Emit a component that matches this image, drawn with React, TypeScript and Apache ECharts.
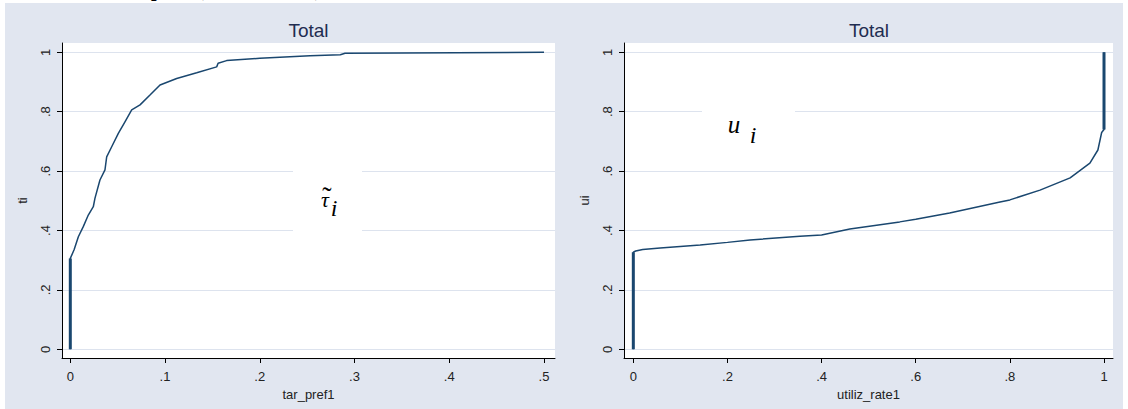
import React, { useEffect, useRef } from "react";
import * as echarts from "echarts";

// Panel 1: tar_pref1 vs ti
const tarPref1 = [0, 0, 0.004, 0.0085, 0.0137, 0.019, 0.0243, 0.026, 0.0313, 0.0366, 0.0384, 0.0437, 0.0507, 0.0577, 0.0648, 0.0736, 0.0841, 0.0947, 0.1123, 0.1334, 0.1545, 0.156, 0.165, 0.2, 0.253, 0.285, 0.29, 0.35, 0.5];
const ti = [0, 0.306, 0.335, 0.379, 0.413, 0.452, 0.48, 0.508, 0.57, 0.604, 0.648, 0.682, 0.727, 0.766, 0.806, 0.823, 0.856, 0.89, 0.912, 0.931, 0.951, 0.963, 0.972, 0.98, 0.988, 0.992, 0.997, 0.998, 1.0];

// Panel 2: utiliz_rate1 vs ui
const utilizRate1 = [0, 0, 0.005, 0.02, 0.057, 0.142, 0.2, 0.248, 0.354, 0.4, 0.46, 0.566, 0.6, 0.672, 0.779, 0.8, 0.864, 0.928, 0.97, 0.987, 0.995, 1, 1];
const ui = [0, 0.327, 0.331, 0.336, 0.341, 0.351, 0.36, 0.368, 0.381, 0.385, 0.405, 0.429, 0.438, 0.459, 0.496, 0.503, 0.536, 0.577, 0.627, 0.671, 0.73, 0.74, 1.0];

const xTicks1 = [0, 0.1, 0.2, 0.3, 0.4, 0.5];
const xTicks2 = [0, 0.2, 0.4, 0.6, 0.8, 1];
const yTicks = [0, 0.2, 0.4, 0.6, 0.8, 1];

const panelTitles = ["Total", "Total"];
const xNames = ["tar_pref1", "utiliz_rate1"];
const yNames = ["ti", "ui"];

const NAVY = "#1a476f";
const GRID = "#dde3ee";
const BG = "#e1e6f0";
const FONT = "'Liberation Sans', Arial, sans-serif";
const SERIF = "'Liberation Serif', 'Times New Roman', serif";

const fmt = (v: number) => {
  const r = Math.round(v * 10) / 10;
  if (r === 0) return "0";
  if (r === 1) return "1";
  return String(r).replace(/^0/, "");
};

function pairs(xs: number[], ys: number[]) {
  return xs.map((x, i) => [x, ys[i]]);
}

export default function App() {
  const ref = useRef<HTMLDivElement>(null);
  useEffect(() => {
    if (!ref.current) return;
    const chart = echarts.init(ref.current, undefined, { renderer: "svg" });

    const xAxisBase = (i: number, min: number, max: number, ticks: number[]) => ({
      type: "value",
      gridIndex: i,
      min,
      max,
      name: xNames[i],
      nameLocation: "middle",
      nameGap: 24,
      nameTextStyle: { fontFamily: FONT, fontSize: 13, color: "#222" },
      axisLine: { onZero: false, lineStyle: { color: "#000", width: 1 } },
      axisTick: { show: true, length: 5, customValues: ticks, lineStyle: { color: "#000" } },
      axisLabel: { customValues: ticks, formatter: fmt, margin: 12, fontFamily: FONT, fontSize: 13, color: "#222" },
      splitLine: { show: false },
    });
    const yAxisBase = (i: number) => ({
      type: "value",
      gridIndex: i,
      min: -0.0293,
      max: 1.0313,
      name: yNames[i],
      nameLocation: "middle",
      nameGap: 33,
      nameRotate: 90,
      nameTextStyle: { fontFamily: FONT, fontSize: 13, color: "#222" },
      axisLine: { onZero: false, lineStyle: { color: "#000", width: 1 } },
      axisTick: { show: true, length: 5, customValues: yTicks, lineStyle: { color: "#000" } },
      axisLabel: { customValues: yTicks, formatter: fmt, rotate: 90, margin: 10, fontFamily: FONT, fontSize: 13, color: "#222" },
      splitLine: { show: true, lineStyle: { color: GRID, width: 1 } },
    });

    const d1 = pairs(tarPref1, ti);
    const d2 = pairs(utilizRate1, ui);

    chart.setOption({
      animation: false,
      backgroundColor: "#fff",
      grid: [
        { left: 62, top: 43, width: 493, height: 315 },
        { left: 624, top: 43, width: 489, height: 315 },
      ],
      xAxis: [xAxisBase(0, -0.00876, 0.5116, xTicks1), xAxisBase(1, -0.0198, 1.0191, xTicks2)],
      yAxis: [yAxisBase(0), yAxisBase(1)],
      graphic: [
        {
          type: "text", z: -20, x: 90, y: -11,
          style: { text: "Scatterplots (Total Results)", fontFamily: SERIF, fontWeight: "bold", fontSize: 20, fill: "#000", verticalAlign: "middle", align: "left" },
        },
        { type: "rect", z: -10, shape: { x: 5, y: 3, width: 1118, height: 406 }, style: { fill: BG } },
        { type: "rect", z: -9, shape: { x: 62, y: 43, width: 493, height: 315 }, style: { fill: "#fff" } },
        { type: "rect", z: -9, shape: { x: 624, y: 43, width: 489, height: 315 }, style: { fill: "#fff" } },
        {
          type: "text", z: 5, x: 308.5, y: 30,
          style: { text: panelTitles[0], fontFamily: FONT, fontSize: 19, fill: "#1f2d50", align: "center", verticalAlign: "middle" },
        },
        {
          type: "text", z: 5, x: 869, y: 30,
          style: { text: panelTitles[1], fontFamily: FONT, fontSize: 19, fill: "#1f2d50", align: "center", verticalAlign: "middle" },
        },
        { type: "rect", z: 1, shape: { x: 293, y: 160, width: 69, height: 80 }, style: { fill: "#fff" } },
        { type: "rect", z: 1, shape: { x: 702, y: 92, width: 93, height: 66 }, style: { fill: "#fff" } },
        {
          type: "text", z: 5, x: 325, y: 199,
          style: { text: "τ", fontFamily: SERIF, fontStyle: "italic", fontSize: 22, fill: "#000", align: "center", verticalAlign: "middle" },
        },
        {
          type: "text", z: 5, x: 327, y: 196,
          style: { text: "˜", fontFamily: SERIF, fontSize: 28, fill: "#000", align: "center", verticalAlign: "middle" },
        },
        {
          type: "text", z: 5, x: 334, y: 207.5,
          style: { text: "i", fontFamily: SERIF, fontStyle: "italic", fontSize: 24, fill: "#000", align: "center", verticalAlign: "middle" },
        },
        {
          type: "text", z: 5, x: 734, y: 124,
          style: { text: "u", fontFamily: SERIF, fontStyle: "italic", fontSize: 25, fill: "#000", align: "center", verticalAlign: "middle" },
        },
        {
          type: "text", z: 5, x: 753, y: 134.5,
          style: { text: "i", fontFamily: SERIF, fontStyle: "italic", fontSize: 24, fill: "#000", align: "center", verticalAlign: "middle" },
        },
      ],
      series: [
        {
          type: "line", xAxisIndex: 0, yAxisIndex: 0, data: d1, showSymbol: false, symbol: "none",
          lineStyle: { color: NAVY, width: 1.5 }, z: 3,
        },
        {
          type: "line", xAxisIndex: 0, yAxisIndex: 0, data: d1.slice(0, 2), showSymbol: false, symbol: "none",
          lineStyle: { color: NAVY, width: 3 }, z: 3,
        },
        {
          type: "line", xAxisIndex: 1, yAxisIndex: 1, data: d2, showSymbol: false, symbol: "none",
          lineStyle: { color: NAVY, width: 1.5 }, z: 3,
        },
        {
          type: "line", xAxisIndex: 1, yAxisIndex: 1, data: d2.slice(0, 2), showSymbol: false, symbol: "none",
          lineStyle: { color: NAVY, width: 3 }, z: 3,
        },
        {
          type: "line", xAxisIndex: 1, yAxisIndex: 1, data: d2.slice(d2.length - 2), showSymbol: false, symbol: "none",
          lineStyle: { color: NAVY, width: 3 }, z: 3,
        },
      ],
    });
    return () => chart.dispose();
  }, []);
  return <div ref={ref} style={{ position: "fixed", left: 0, top: 0, width: 1128, height: 409 }} />;
}
